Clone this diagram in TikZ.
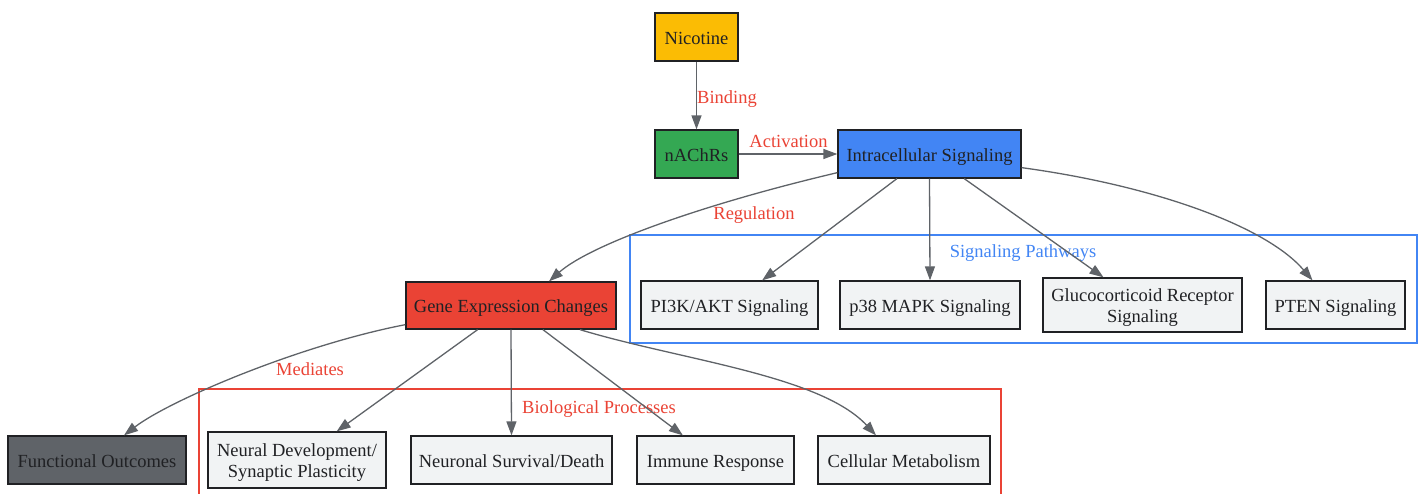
\documentclass[tikz,border=0pt]{standalone}
\usepackage{fontspec}
\setmainfont{Liberation Serif}
\usetikzlibrary{arrows.meta,calc}
\definecolor{cyellow}{HTML}{FBBC04}
\definecolor{cgreen}{HTML}{34A853}
\definecolor{cblue}{HTML}{4285F4}
\definecolor{cred}{HTML}{EA4335}
\definecolor{cgray}{HTML}{5F6368}
\definecolor{clight}{HTML}{F1F3F4}
\definecolor{ctext}{HTML}{202124}
\newcommand{\twolines}[2]{\begin{tabular}{@{}c@{}}#1\\#2\end{tabular}}
\begin{document}
\begin{tikzpicture}[x=1pt,y=-1pt,
  font=\fontsize{18.5}{21.6}\selectfont,
  box/.style={draw=ctext, line width=1.3pt, inner sep=0pt, text=ctext, text height=14pt, text depth=0pt},
  lightbox/.style={box, fill=clight},
  conn/.style={draw=cgray, line width=1.3pt, -{Triangle[length=14pt,width=10pt]}},
  elabel/.style={text=cred, inner sep=0pt, anchor=base},
  clusterbox/.style={line width=1.1pt}]
\useasboundingbox (0,0) rectangle (1421,493);
\clip (0,0) rectangle (1421,493);
% clusters
\draw[clusterbox, draw=cblue] (630,235) rectangle (1417,343);
\node[text=cblue, inner sep=0pt, anchor=base] (sigtitle) at (1023,257.5) {Signaling Pathways};
\draw[clusterbox, draw=cred] (199,389) rectangle (1001,505);
\node[text=cred, inner sep=0pt, anchor=base] (biotitle) at (599,413) {Biological Processes};
% nodes
\node[box, fill=cyellow, minimum width=83pt, minimum height=48pt] (nic) at (696.5,37) {Nicotine};
\node[box, fill=cgreen, minimum width=83pt, minimum height=48pt] (nachr) at (696.5,154) {nAChRs};
\node[box, fill=cblue, minimum width=183pt, minimum height=48pt] (intra) at (929.5,154) {Intracellular Signaling};
\node[box, fill=cred, minimum width=210pt, minimum height=47pt] (gene) at (511,305.5) {Gene Expression Changes};
\node[lightbox, minimum width=177pt, minimum height=48pt] (pi3k) at (729.5,305) {PI3K/AKT Signaling};
\node[lightbox, minimum width=180pt, minimum height=48pt] (p38) at (930,305) {p38 MAPK Signaling};
\node[lightbox, minimum width=199pt, minimum height=54pt] (gluco) at (1142.5,305) {\twolines{Glucocorticoid Receptor}{Signaling}};
\node[lightbox, minimum width=139pt, minimum height=48pt] (pten) at (1335.5,305) {PTEN Signaling};
\node[box, fill=cgray, minimum width=178pt, minimum height=48pt] (func) at (97,460) {Functional Outcomes};
\node[lightbox, minimum width=178pt, minimum height=56pt] (neural) at (297,460) {\twolines{Neural Development/}{Synaptic Plasticity}};
\node[lightbox, minimum width=201pt, minimum height=48pt] (surv) at (511.5,460) {Neuronal Survival/Death};
\node[lightbox, minimum width=157pt, minimum height=48pt] (immune) at (715.5,460) {Immune Response};
\node[lightbox, minimum width=172pt, minimum height=48pt] (cell) at (904,460) {Cellular Metabolism};
% edges
\draw[conn] (nic) -- (nachr);
\node[elabel, anchor=base west] (lbind) at (697,103.5) {Binding};
\draw[conn] (nachr) -- (intra);
\node[elabel] (lact) at (788.5,147) {Activation};
\draw[conn] ($(intra.south west)+(0,-6)$) .. controls (700,205) and (590,245) .. ($(gene.north)+(38,0)$);
\node[elabel] (lreg) at (754,219.5) {Regulation};
\draw[conn] (intra) -- (pi3k);
\draw[conn] (intra.south) -- (p38.north);
\draw[conn] (intra) -- (gluco);
\draw[conn] ($(intra.south east)+(0,-11)$) .. controls (1150,185) and (1265,225) .. ($(pten.north)+(-23,0)$);
\draw[conn] ($(gene.south west)+(0,-5)$) .. controls (300,345) and (170,400) .. ($(func.north)+(27,0)$);
\node[elabel] (lmed) at (310,375) {Mediates};
\draw[conn] (gene) -- (neural);
\draw[conn] (gene.south) -- (surv.north);
\draw[conn] (gene) -- (immune);
\draw[conn] ($(gene.south)+(69,0)$) .. controls (680,360) and (820,375) .. ($(cell.north)+(-28,0)$);
\end{tikzpicture}
\end{document}
